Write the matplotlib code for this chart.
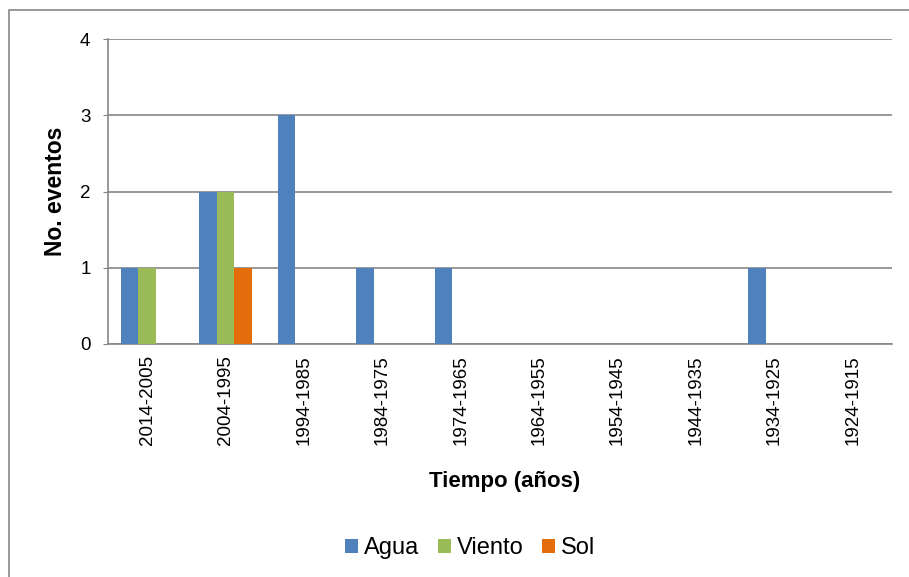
import matplotlib
matplotlib.use("Agg")
from matplotlib import pyplot as plt
from matplotlib.patches import Rectangle
import numpy as np

plt.rcParams['font.family'] = ['Liberation Sans', 'DejaVu Sans']

periodos = ['2014-2005', '2004-1995', '1994-1985', '1984-1975', '1974-1965',
            '1964-1955', '1954-1945', '1944-1935', '1934-1925', '1924-1915']
agua = [1, 2, 3, 1, 1, 0, 0, 0, 1, 0]
viento = [1, 2, 0, 0, 0, 0, 0, 0, 0, 0]
sol = [0, 1, 0, 0, 0, 0, 0, 0, 0, 0]

series = [('Agua', agua, '#4F81BD'), ('Viento', viento, '#9BBB59'), ('Sol', sol, '#E46C0A')]
gris = '#868686'

fig = plt.figure(figsize=(9.09, 5.77), dpi=100)
ax = fig.add_axes([108 / 909, 1 - 344 / 577, 784 / 909, 305 / 577])

x = np.arange(len(periodos))
w = 1 / 4.5
for i, (nombre, vals, color) in enumerate(series):
    ax.bar(x + (i - 1) * w, vals, width=w, color=color, label=nombre, zorder=3)

ax.set_xlim(-0.5, len(periodos) - 0.5)
ax.set_ylim(0, 4)
ax.set_yticks(range(5))
ax.set_xticks(x)
ax.set_xticklabels(periodos, rotation=90, fontsize=13.5)
ax.tick_params(axis='x', length=0, pad=8)
ax.tick_params(axis='y', length=3.6, color=gris, labelsize=13.5, pad=9)
ax.grid(axis='y', color=gris, lw=1.2, zorder=0)

for s in ['top', 'right']:
    ax.spines[s].set_visible(False)
for s in ['left', 'bottom']:
    ax.spines[s].set_color(gris)
    ax.spines[s].set_linewidth(1.2)

ax.set_ylabel('No. eventos', fontsize=16.5, fontweight='bold', va='center')
ax.yaxis.set_label_coords(56 / 909, 1 - 191 / 577, transform=fig.transFigure)
ax.set_xlabel('Tiempo (años)', fontsize=16, fontweight='bold', va='center')
ax.xaxis.set_label_coords(505 / 909, 1 - 481 / 577, transform=fig.transFigure)

ax.legend(loc='center', bbox_to_anchor=(470 / 909, 1 - 548 / 577), bbox_transform=fig.transFigure,
          ncol=3, frameon=False, fontsize=17, handlelength=0.55, handleheight=0.55,
          handletextpad=0.25, columnspacing=0.8, borderpad=0)

# marco exterior del gráfico
fig.patches.append(Rectangle((9 / 909, -0.1), 1.2, 0.1 + 1 - 10 / 577,
                             transform=fig.transFigure, fill=False, edgecolor=gris,
                             lw=1.2, clip_on=False))

fig.savefig('out.png', dpi=100)
